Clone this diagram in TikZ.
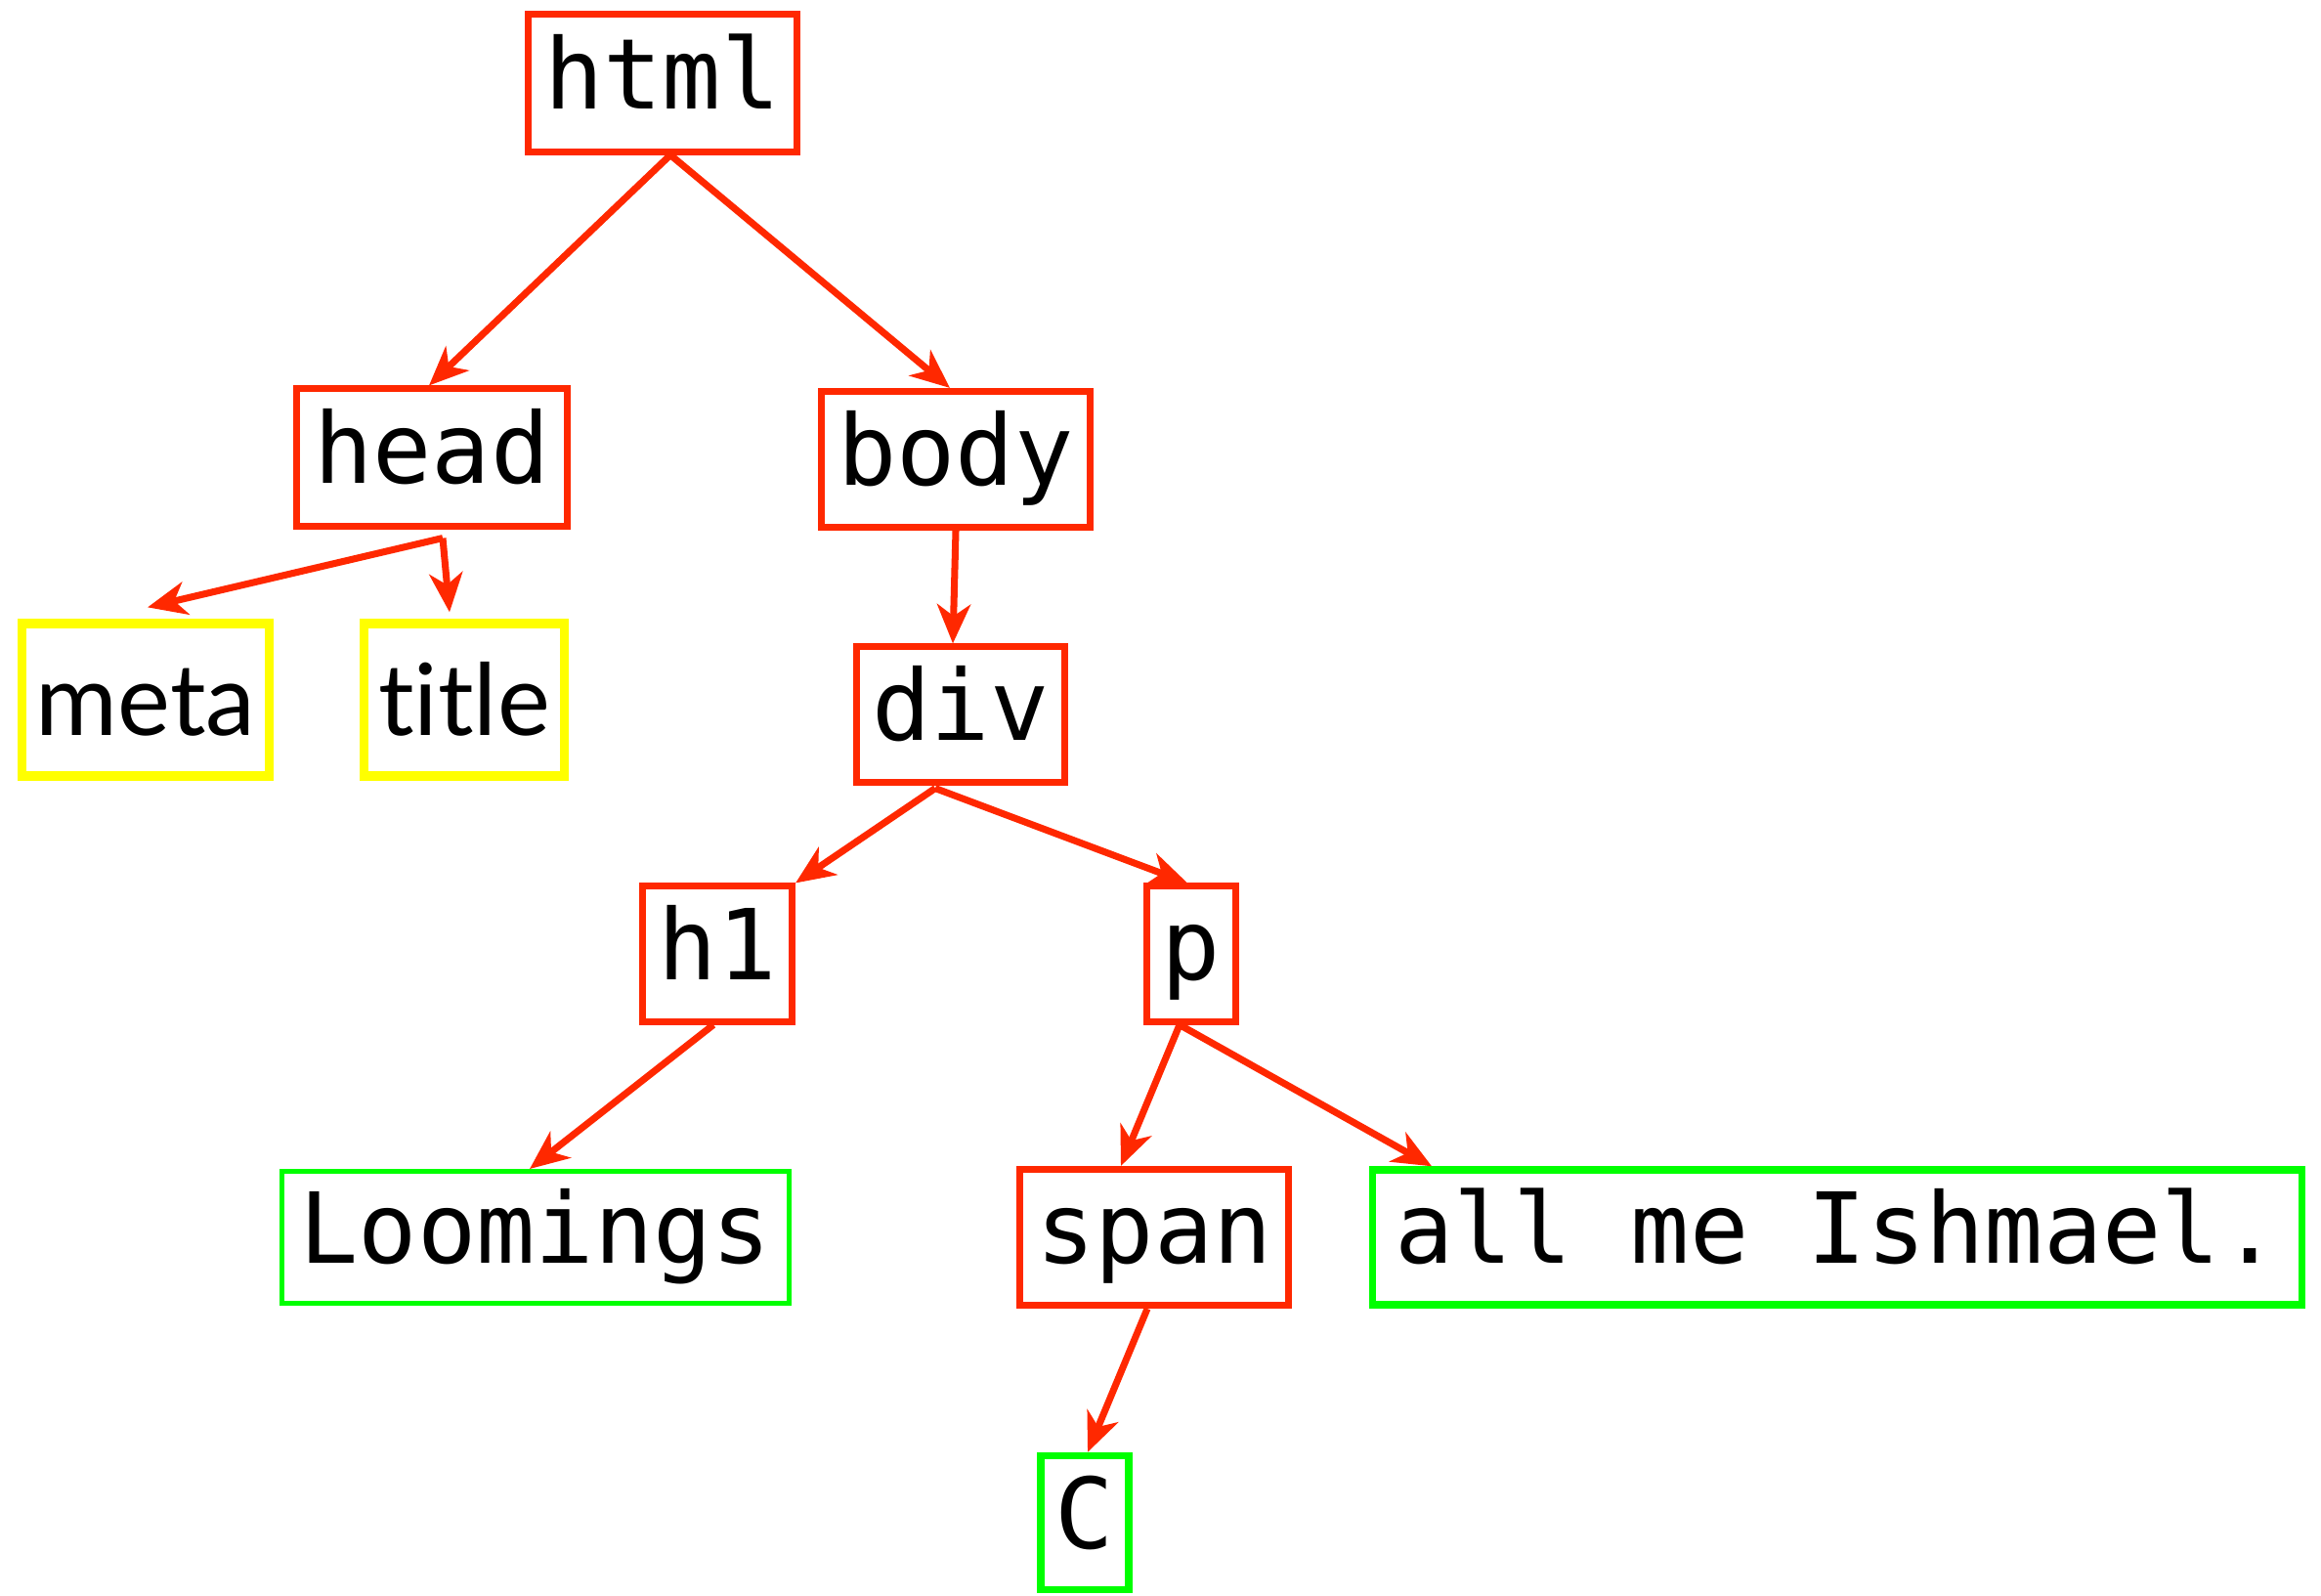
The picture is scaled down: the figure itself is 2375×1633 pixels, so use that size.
\documentclass[tikz,border=0pt]{standalone}
\usepackage{fontspec}
\setmonofont{DejaVu Sans Mono}
\newfontfamily\gillfont[Ligatures={NoCommon}]{Lato}
\usetikzlibrary{arrows.meta}
\definecolor{tagred}{RGB}{255,40,0}
\definecolor{metayel}{RGB}{255,255,0}
\definecolor{textgreen}{RGB}{0,255,0}
\tikzset{
  box/.style={draw, inner sep=0pt, text height=21pt, text depth=5.7pt, font=\ttfamily\fontsize{28.5}{30}\selectfont},
  tagbox/.style={box, draw=tagred, line width=2pt},
  headbox/.style={box, draw=metayel, line width=2.6pt, text height=24pt, text depth=3pt, font=\gillfont\fontsize{29}{30}\selectfont},
  txtbox/.style={box, draw=textgreen, line width=2.1pt},
  thintxt/.style={box, draw=textgreen, line width=1.4pt},
  edge/.style={draw=tagred, line width=2pt, -{Stealth[length=0.4cm,width=0.34cm,inset=0.12cm]}}
}
\begin{document}
\begin{tikzpicture}[x=0.01cm,y=-0.01cm]
\useasboundingbox (0,0) rectangle (2375,1633);
\node[tagbox, minimum width=2.75cm, minimum height=1.40cm] (html) at (678,85) {html};
\node[tagbox, minimum width=2.76cm, minimum height=1.40cm] (head) at (442,468) {head};
\node[tagbox, minimum width=2.75cm, minimum height=1.39cm] (body) at (978,470) {body};
\node[headbox, minimum width=2.53cm, minimum height=1.56cm] (meta) at (149,716) {meta};
\node[headbox, minimum width=2.05cm, minimum height=1.56cm] (title) at (475,716) {t\kern0pt itle};
\node[tagbox, minimum width=2.12cm, minimum height=1.38cm] (div) at (983,731) {div};
\node[tagbox, minimum width=1.53cm, minimum height=1.38cm] (h1) at (734,976) {h1};
\node[tagbox, minimum width=0.91cm, minimum height=1.38cm] (p) at (1219,976) {p};
\node[thintxt, minimum width=5.18cm, minimum height=1.35cm] (loom) at (548,1266) {Loomings};
\node[tagbox, minimum width=2.75cm, minimum height=1.39cm] (span) at (1181,1266) {span};
\node[txtbox, minimum width=9.50cm, minimum height=1.38cm] (ish) at (1880,1266) {all me Ishmael.};
\node[txtbox, minimum width=0.90cm, minimum height=1.37cm] (c) at (1110,1558) {C};

\draw[edge] ([xshift=0.08cm]html.south) -- ([xshift=-0.03cm]head.north);
\draw[edge] ([xshift=0.08cm]html.south) -- ([xshift=-0.06cm]body.north);
\draw[edge] ([xshift=0.11cm,yshift=-0.09cm]head.south) -- ([xshift=0.02cm,yshift=0.12cm]meta.north);
\draw[edge] ([xshift=0.11cm,yshift=-0.09cm]head.south) -- ([xshift=-0.15cm,yshift=0.07cm]title.north);
\draw[edge] (body.south) -- ([xshift=-0.08cm]div.north);
\draw[edge] ([xshift=-0.26cm,yshift=-0.03cm]div.south) -- (h1.north east);
\draw[edge] ([xshift=-0.26cm,yshift=-0.03cm]div.south) -- ([xshift=-0.04cm]p.north);
\draw[edge] ([xshift=-0.04cm]h1.south) -- ([xshift=-0.06cm]loom.north);
\draw[edge] ([xshift=-0.12cm]p.south) -- ([xshift=-0.34cm]span.north);
\draw[edge] ([xshift=-0.12cm]p.south) -- ([xshift=0.64cm]ish.north west);
\draw[edge] ([xshift=-0.07cm]span.south) -- ([xshift=0.03cm]c.north);
\end{tikzpicture}
\end{document}
